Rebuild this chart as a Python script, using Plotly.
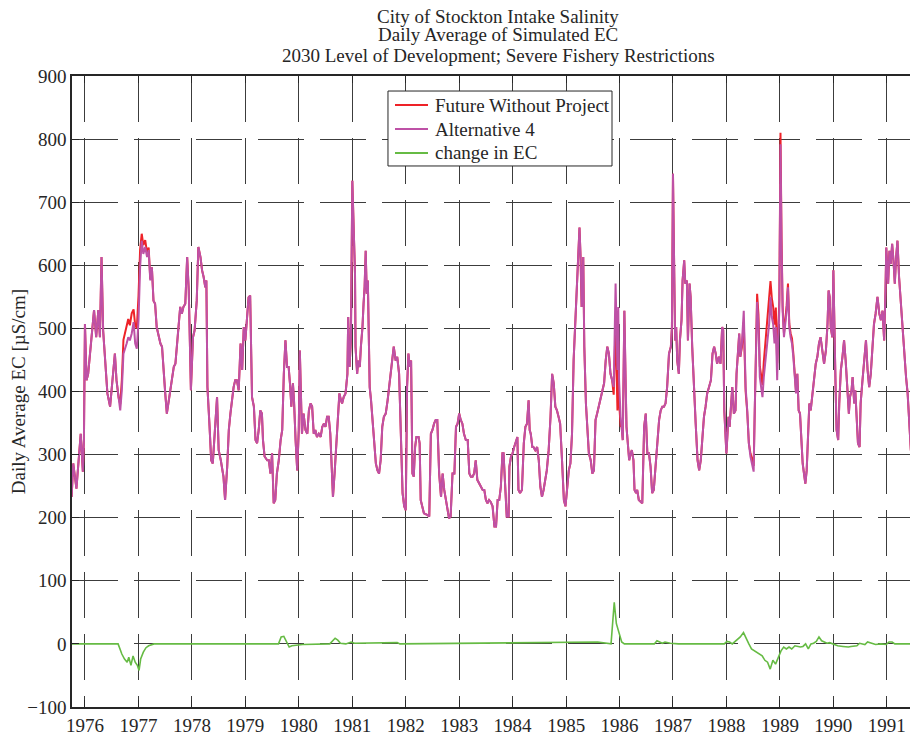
#!python3
# City of Stockton intake salinity - daily average simulated EC
# values (decimal years, EC in uS/cm)

import pandas as pd
import plotly.graph_objects as go

# Alternative 4 (magenta), decimal year / EC
alt4_yr = [
    1975.75, 1975.78, 1975.84, 1975.89, 1975.92, 1975.96, 1975.98,
    1976.00, 1976.03, 1976.06, 1976.09, 1976.14, 1976.17, 1976.21, 1976.25, 1976.28, 1976.31,
    1976.34, 1976.38, 1976.42, 1976.47, 1976.50, 1976.53, 1976.56, 1976.59, 1976.63, 1976.66,
    1976.69, 1976.72, 1976.78, 1976.81, 1976.84, 1976.875, 1976.91, 1976.94, 1976.97,
    1977.00, 1977.03, 1977.06, 1977.09, 1977.125, 1977.16, 1977.19, 1977.22, 1977.25, 1977.28,
    1977.31, 1977.34, 1977.375, 1977.41, 1977.44, 1977.47, 1977.50, 1977.53, 1977.56, 1977.59,
    1977.625, 1977.66, 1977.69, 1977.72, 1977.75, 1977.78, 1977.81, 1977.84, 1977.875, 1977.91,
    1977.94, 1977.97, 1977.98,
    1978.02, 1978.05, 1978.09, 1978.12, 1978.16, 1978.19, 1978.22, 1978.25, 1978.27, 1978.29,
    1978.33, 1978.36, 1978.39, 1978.42, 1978.47, 1978.50, 1978.54, 1978.59, 1978.62, 1978.66,
    1978.69, 1978.72, 1978.75, 1978.78, 1978.81, 1978.84, 1978.875, 1978.91, 1978.94, 1978.97,
    1979.00, 1979.03, 1979.06, 1979.09, 1979.125, 1979.16, 1979.19, 1979.22, 1979.25, 1979.28,
    1979.31, 1979.33, 1979.36, 1979.41, 1979.44, 1979.47, 1979.50, 1979.53, 1979.56, 1979.59,
    1979.625, 1979.66, 1979.69, 1979.72, 1979.75, 1979.78, 1979.81, 1979.84, 1979.86, 1979.89,
    1979.91, 1979.94, 1979.97,
    1980.00, 1980.02, 1980.04, 1980.06, 1980.09, 1980.125, 1980.16, 1980.19, 1980.22, 1980.25,
    1980.28, 1980.31, 1980.34, 1980.375, 1980.41, 1980.44, 1980.47, 1980.50, 1980.53, 1980.56,
    1980.59, 1980.625, 1980.64, 1980.67, 1980.70, 1980.73, 1980.76, 1980.79, 1980.81, 1980.84,
    1980.875, 1980.91, 1980.925, 1980.95, 1980.975,
    1981.00, 1981.03, 1981.05, 1981.06, 1981.09, 1981.11, 1981.14, 1981.16, 1981.19, 1981.21,
    1981.23, 1981.25, 1981.27, 1981.29, 1981.31, 1981.325, 1981.35, 1981.375, 1981.41, 1981.44,
    1981.47, 1981.50, 1981.53, 1981.56, 1981.59, 1981.625, 1981.66, 1981.69, 1981.72, 1981.75,
    1981.775, 1981.81, 1981.84, 1981.875, 1981.91, 1981.94, 1981.97,
    1982.00, 1982.025, 1982.05, 1982.075, 1982.10, 1982.125, 1982.15, 1982.175, 1982.20, 1982.24,
    1982.26, 1982.28, 1982.34, 1982.41, 1982.44, 1982.47, 1982.50, 1982.53, 1982.56, 1982.59,
    1982.625, 1982.66, 1982.69, 1982.72, 1982.75, 1982.78, 1982.81, 1982.84, 1982.875, 1982.91,
    1982.94, 1982.97,
    1983.00, 1983.03, 1983.06, 1983.09, 1983.125, 1983.16, 1983.19, 1983.22, 1983.25, 1983.28,
    1983.31, 1983.34, 1983.375, 1983.41, 1983.44, 1983.47, 1983.50, 1983.53, 1983.56, 1983.59,
    1983.625, 1983.66, 1983.69, 1983.72, 1983.75, 1983.78, 1983.81, 1983.83, 1983.85, 1983.87,
    1983.89, 1983.925, 1983.94, 1983.97,
    1984.00, 1984.03, 1984.07, 1984.09, 1984.11, 1984.14, 1984.175, 1984.21, 1984.24, 1984.27,
    1984.30, 1984.32, 1984.34, 1984.37, 1984.39, 1984.425, 1984.46, 1984.49, 1984.52, 1984.55,
    1984.58, 1984.61, 1984.64, 1984.675, 1984.71, 1984.74, 1984.77, 1984.80, 1984.83, 1984.86,
    1984.89, 1984.925, 1984.96, 1984.99,
    1985.02, 1985.05, 1985.08, 1985.11, 1985.14, 1985.175, 1985.21, 1985.225, 1985.25, 1985.27,
    1985.29, 1985.32, 1985.34, 1985.37, 1985.39, 1985.425, 1985.46, 1985.49, 1985.52, 1985.55,
    1985.58, 1985.61, 1985.64, 1985.675, 1985.71, 1985.74, 1985.77, 1985.80, 1985.83, 1985.86,
    1985.89, 1985.925, 1985.94, 1985.96, 1985.975, 1985.99,
    1986.02, 1986.04, 1986.06, 1986.09, 1986.11, 1986.13, 1986.16, 1986.18, 1986.21, 1986.23,
    1986.26, 1986.28, 1986.31, 1986.33, 1986.36, 1986.39, 1986.425, 1986.46, 1986.49, 1986.52,
    1986.55, 1986.58, 1986.61, 1986.64, 1986.675, 1986.71, 1986.74, 1986.77, 1986.80, 1986.83,
    1986.86, 1986.89, 1986.925, 1986.96, 1986.98,
    1987.00, 1987.02, 1987.04, 1987.06, 1987.08, 1987.11, 1987.13, 1987.16, 1987.18, 1987.21,
    1987.23, 1987.26, 1987.28, 1987.31, 1987.33, 1987.36, 1987.39, 1987.425, 1987.46, 1987.49,
    1987.52, 1987.55, 1987.58, 1987.61, 1987.64, 1987.675, 1987.71, 1987.74, 1987.77, 1987.80,
    1987.825, 1987.86, 1987.89, 1987.92, 1987.94, 1987.96, 1987.98,
    1988.00, 1988.025, 1988.04, 1988.06, 1988.09, 1988.11, 1988.14, 1988.17, 1988.19, 1988.21,
    1988.24, 1988.26, 1988.29, 1988.325, 1988.34, 1988.36, 1988.39, 1988.42, 1988.45, 1988.48,
    1988.51, 1988.53, 1988.55, 1988.575, 1988.60, 1988.625, 1988.65, 1988.675, 1988.70, 1988.725,
    1988.75, 1988.775, 1988.80, 1988.825, 1988.85, 1988.875, 1988.90, 1988.925, 1988.95, 1988.97,
    1988.99,
    1989.00, 1989.01, 1989.03, 1989.05, 1989.075, 1989.10, 1989.125, 1989.15, 1989.175, 1989.20,
    1989.225, 1989.25, 1989.275, 1989.30, 1989.325, 1989.35, 1989.375, 1989.40, 1989.425, 1989.45,
    1989.475, 1989.50, 1989.525, 1989.55, 1989.575, 1989.61, 1989.64, 1989.67, 1989.70, 1989.73,
    1989.76, 1989.79, 1989.825, 1989.86, 1989.89, 1989.91, 1989.93, 1989.95, 1989.98,
    1990.00, 1990.02, 1990.04, 1990.06, 1990.09, 1990.11, 1990.14, 1990.17, 1990.20, 1990.23,
    1990.26, 1990.29, 1990.31, 1990.34, 1990.36, 1990.39, 1990.41, 1990.44, 1990.46, 1990.49,
    1990.51, 1990.54, 1990.575, 1990.61, 1990.64, 1990.67, 1990.70, 1990.73, 1990.76, 1990.79,
    1990.825, 1990.86, 1990.89, 1990.92, 1990.95, 1990.975, 1990.99,
    1991.025, 1991.05, 1991.075, 1991.10, 1991.125, 1991.15, 1991.175, 1991.20, 1991.23, 1991.26,
    1991.29, 1991.325, 1991.36, 1991.39, 1991.42, 1991.45, 1991.48, 1991.51, 1991.54, 1991.575,
    1991.60,
]
alt4_ec = [
    233, 286, 246, 302, 333, 273, 323,
    507, 418, 428, 455, 492, 529, 486, 529, 486, 613,
    497, 449, 397, 376, 402, 439, 460, 418, 386, 370,
    402, 460, 476, 486, 481, 492, 510, 476, 468,
    513, 597, 639, 618, 629, 613, 624, 576, 597, 544,
    539, 502, 486, 476, 471, 428, 397, 365, 381, 397,
    418, 439, 444, 471, 502, 534, 523, 534, 539, 613,
    560, 418, 402,
    486, 497, 544, 629, 613, 592, 581, 565, 576, 407,
    344, 291, 286, 323, 391, 307, 291, 265, 228, 281,
    339, 365, 386, 407, 418, 418, 402, 476, 434, 502,
    481, 523, 549, 552, 391, 376, 323, 318, 339, 370,
    365, 323, 297, 291, 291, 270, 302, 223, 228, 270,
    291, 323, 339, 428, 481, 439, 439, 407, 376, 413,
    386, 323, 275,
    339, 465, 397, 333, 365, 339, 333, 370, 381, 376,
    333, 339, 328, 333, 328, 344, 349, 344, 360, 360,
    333, 239, 233, 270, 307, 349, 397, 386, 381, 391,
    397, 428, 518, 439, 481,
    734, 660, 587, 471, 428, 449, 439, 471, 502, 539,
    566, 623, 555, 576, 502, 407, 386, 355, 312, 286,
    275, 270, 291, 344, 360, 365, 386, 407, 428, 455,
    471, 449, 455, 428, 302, 239, 218,
    212, 407, 460, 439, 449, 270, 265, 312, 328, 328,
    318, 228, 207, 204, 202, 333, 339, 349, 355, 355,
    270, 233, 270, 244, 228, 212, 199, 202, 270, 270,
    344, 349,
    365, 355, 349, 333, 323, 323, 270, 265, 265, 270,
    291, 260, 254, 249, 244, 244, 228, 223, 228, 225,
    218, 186, 186, 228, 228, 249, 302, 302, 270, 218,
    202, 202, 281, 297,
    302, 312, 323, 328, 244, 239, 244, 318, 344, 349,
    386, 339, 333, 312, 312, 307, 312, 291, 249, 233,
    244, 260, 275, 307, 360, 428, 413, 376, 370, 360,
    349, 291, 228, 218,
    249, 275, 286, 333, 449, 523, 571, 629, 660, 613,
    534, 613, 471, 381, 344, 302, 291, 270, 275, 355,
    365, 376, 386, 397, 413, 449, 471, 460, 428, 418,
    407, 571, 481, 434, 534, 418,
    360, 344, 323, 528, 428, 344, 312, 291, 302, 307,
    291, 244, 239, 244, 228, 225, 223, 344, 365, 302,
    302, 281, 239, 244, 286, 323, 355, 370, 376, 376,
    381, 407, 460, 471, 502,
    745, 639, 481, 502, 449, 428, 481, 513, 576, 608,
    571, 576, 481, 571, 550, 471, 407, 349, 291, 275,
    291, 333, 360, 376, 397, 407, 418, 460, 471, 460,
    444, 455, 444, 502, 497, 370, 328,
    302, 339, 360, 344, 376, 407, 365, 370, 428, 455,
    492, 455, 476, 528, 465, 407, 370, 318, 297, 286,
    273, 370, 444, 542, 507, 423, 407, 391, 423, 444,
    465, 486, 507, 550, 518, 507, 476, 502, 418, 486,
    528,
    671, 792, 634, 528, 486, 507, 528, 565, 502, 486,
    476, 455, 423, 397, 428, 370, 365, 328, 286, 270,
    254, 275, 339, 381, 370, 402, 428, 444, 455, 476,
    486, 465, 444, 465, 507, 560, 550, 502, 486,
    592, 476, 413, 339, 323, 381, 434, 455, 481, 449,
    397, 365, 391, 402, 423, 381, 402, 339, 318, 312,
    381, 413, 455, 481, 434, 407, 428, 465, 507, 523,
    550, 523, 513, 528, 481, 560, 628,
    571, 623, 602, 634, 608, 571, 613, 639, 581, 544,
    502, 455, 423, 397, 349, 307, 302, 339, 381, 423,
    434,
]

# Future Without Project (red) where it departs from Alternative 4
fwp_windows = [(1976.60, 1977.23), (1985.88, 1986.03), (1988.28, 1989.31)]
fwp_yr = [
    1976.63, 1976.66, 1976.69, 1976.72, 1976.78, 1976.81, 1976.84, 1976.875, 1976.91, 1976.94,
    1976.97, 1977.00, 1977.03, 1977.06, 1977.09, 1977.125, 1977.16, 1977.19, 1977.22,
    1985.89, 1985.925, 1985.94, 1985.96, 1985.975, 1985.99, 1986.02,
    1988.29, 1988.325, 1988.34, 1988.36, 1988.39, 1988.42, 1988.45, 1988.48, 1988.51, 1988.53,
    1988.55, 1988.575, 1988.60, 1988.625, 1988.65, 1988.675, 1988.70, 1988.725, 1988.75, 1988.775,
    1988.80, 1988.825, 1988.85, 1988.875, 1988.90, 1988.925, 1988.95, 1988.97, 1988.99, 1989.00,
    1989.01, 1989.03, 1989.05, 1989.075, 1989.10, 1989.125, 1989.15, 1989.175, 1989.20, 1989.225,
    1989.25, 1989.275, 1989.30,
]
fwp_ec = [
    390, 380, 418, 482, 503, 515, 505, 524, 530, 505,
    500, 552, 625, 650, 632, 640, 620, 628, 578,
    395, 510, 420, 370, 480, 385, 345,
    470, 510, 452, 400, 368, 318, 302, 294, 282, 382,
    456, 555, 522, 440, 426, 410, 447, 470, 493, 516,
    540, 575, 548, 534, 506, 533, 445, 508, 545, 682,
    810, 642, 535, 492, 514, 536, 571, 507, 492, 484,
    461, 427, 400,
]

# change in EC (green)
chg_yr = [
    1975.75, 1976.62, 1976.69, 1976.74, 1976.79, 1976.82, 1976.86, 1976.90, 1976.94, 1976.98,
    1977.01, 1977.04, 1977.09, 1977.14, 1977.19, 1977.29, 1979.62, 1979.67, 1979.72, 1979.77,
    1979.82, 1979.87, 1979.97, 1980.07, 1980.58, 1980.63, 1980.68, 1980.73, 1980.78, 1980.88,
    1980.98, 1981.04, 1981.59, 1981.84, 1981.89, 1985.53, 1985.59, 1985.84, 1985.87, 1985.90,
    1985.94, 1985.99, 1986.04, 1986.09, 1986.65, 1986.70, 1986.75, 1986.80, 1986.85, 1986.95,
    1987.10, 1987.96, 1988.01, 1988.06, 1988.11, 1988.26, 1988.32, 1988.37, 1988.42, 1988.47,
    1988.57, 1988.67, 1988.72, 1988.77, 1988.82, 1988.87, 1988.92, 1988.97, 1989.02, 1989.07,
    1989.12, 1989.17, 1989.22, 1989.28, 1989.38, 1989.43, 1989.48, 1989.53, 1989.58, 1989.63,
    1989.68, 1989.73, 1989.78, 1989.83, 1989.88, 1989.93, 1989.98, 1990.08, 1990.18, 1990.28,
    1990.33, 1990.44, 1990.49, 1990.59, 1990.64, 1990.69, 1990.79, 1990.89, 1990.99, 1991.04,
    1991.10, 1991.15, 1991.60,
]
chg_ec = [
    0, 0, -16, -24, -29, -21, -34, -19, -29, -34,
    -42, -24, -13, -6, -3, 0, 0, 11, 12, 3,
    -5, -3, -2, -1, 0, 5, 9, 6, 1, 0,
    3, 1, 2, 2, 0, 2, 3, 0, 32, 66,
    32, 16, 3, 0, 0, 5, 3, 1, 3, 1,
    0, 0, 4, 3, 0, 11, 18, 8, 0, -8,
    -13, -19, -26, -29, -40, -26, -32, -21, -11, -5,
    -8, -5, -8, -3, -5, -4, 0, -8, 0, 1,
    4, 11, 5, 3, 1, 2, 0, -3, -4, -5,
    -4, -3, 1, -1, 3, 2, -1, 0, -1, 3,
    3, 0, 0,
]

years = list(range(1976, 1992))
title_lines = ['City of Stockton Intake Salinity',
               'Daily Average of Simulated EC',
               '2030 Level of Development; Severe Fishery Restrictions']
series_names = ['Future Without Project', 'Alternative 4', 'change in EC']
series_colors = ['#EE2228', '#BE51A6', '#66BB44']


def to_date(y):
    yi = int(y)
    return pd.Timestamp(year=yi, month=1, day=1) + pd.Timedelta(days=(y - yi) * 365.25)


def in_window(y):
    return any(a <= y <= b for a, b in fwp_windows)


# FWP follows Alternative 4 outside the windows where the two differ
fwp_pts = [(y, v) for y, v in zip(alt4_yr, alt4_ec) if not in_window(y)]
fwp_pts += list(zip(fwp_yr, fwp_ec))
fwp_pts.sort()

SERIF = "Liberation Serif"
INK = "#262626"
FS = 19

fig = go.Figure()
fig.add_trace(go.Scatter(x=[to_date(y) for y, _ in fwp_pts], y=[v for _, v in fwp_pts],
                         mode='lines', name=series_names[0],
                         line=dict(color=series_colors[0], width=2)))
fig.add_trace(go.Scatter(x=[to_date(y) for y in alt4_yr], y=alt4_ec,
                         mode='lines', name=series_names[1],
                         line=dict(color=series_colors[1], width=2)))
fig.add_trace(go.Scatter(x=[to_date(y) for y in chg_yr], y=chg_ec,
                         mode='lines', name=series_names[2],
                         line=dict(color=series_colors[2], width=1.6)))

axis_style = dict(showline=True, linecolor=INK, linewidth=1.5,
                  ticks='inside', ticklen=7, tickcolor=INK, tickwidth=1,
                  showgrid=True, gridcolor='#3c3c3c', gridwidth=1, griddash='46px,16px',
                  zeroline=False, automargin=False,
                  tickfont=dict(family=SERIF, size=FS, color=INK))

# title as three lines with tight spacing, as in the source figure
title_y = [1.0945, 1.0650, 1.0317]
for txt, ty in zip(title_lines, title_y):
    fig.add_annotation(text=txt, xref='paper', yref='paper',
                       x=0.504, y=ty, xanchor='center', yanchor='middle',
                       showarrow=False, font=dict(family=SERIF, size=FS, color=INK))

# compact legend box drawn by hand (plotly's own rows are too far apart)
fig.add_shape(type='rect', xref='paper', yref='paper', x0=0.3735, x1=0.6383,
              y0=0.8574, y1=0.9762, line=dict(color=INK, width=1), fillcolor='white')
for i, (nm, col) in enumerate(zip(series_names, series_colors)):
    yy = 0.9540 - i * 0.038
    fig.add_shape(type='line', xref='paper', yref='paper', x0=0.3818, x1=0.4208,
                  y0=yy, y1=yy, line=dict(color=col, width=2))
    fig.add_annotation(text=nm, xref='paper', yref='paper', x=0.4267, y=yy,
                       xanchor='left', yanchor='middle', showarrow=False,
                       font=dict(family=SERIF, size=FS, color=INK))

# the page body has an 8px margin, so the figure is 8px smaller on each side
fig.update_layout(
    width=910, height=727,
    margin=dict(l=64, r=0, t=68, b=28),
    paper_bgcolor='white', plot_bgcolor='white',
    font=dict(family=SERIF, size=FS, color=INK),
    xaxis=dict(type='date', range=[to_date(1975.757), to_date(1991.584)],
               tickvals=[pd.Timestamp(year=y, month=1, day=1) for y in years],
               ticktext=[str(y) for y in years], mirror='ticks', **axis_style),
    yaxis=dict(range=[-100, 900], dtick=100,
               title=dict(text='Daily Average EC [µS/cm]', standoff=6,
                          font=dict(family=SERIF, size=FS, color=INK)),
               **axis_style),
    showlegend=False,
)

fig.write_html("out.html")
